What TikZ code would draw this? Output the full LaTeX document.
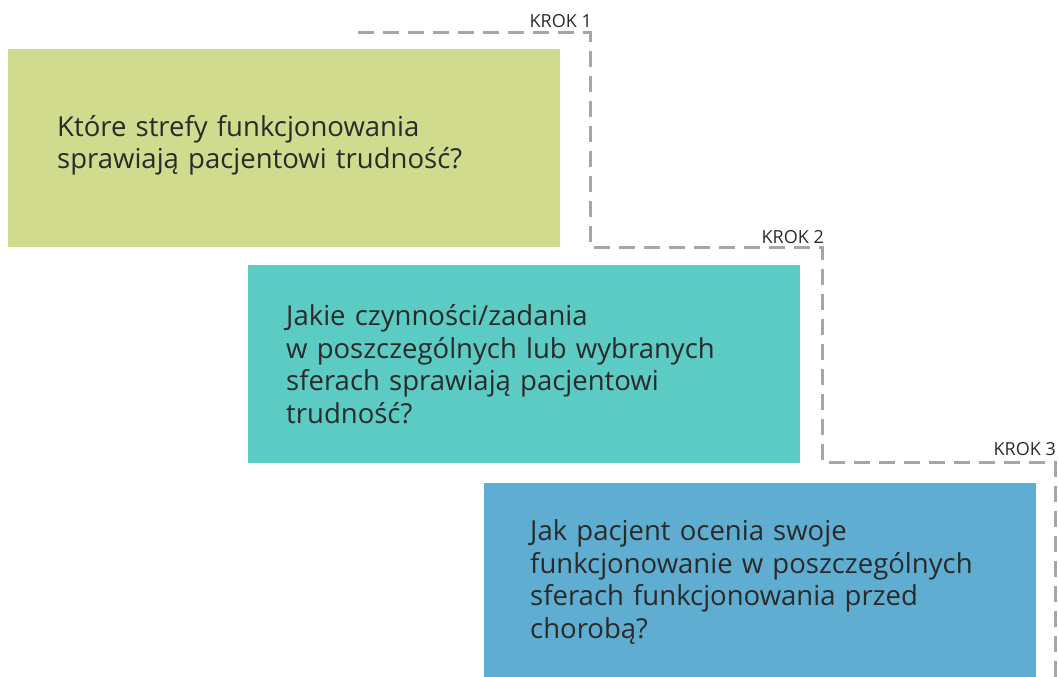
\documentclass[tikz,border=0pt]{standalone}
\usepackage{fontspec}
\setmainfont{Open Sans}
\definecolor{boxA}{HTML}{D0DB8D}
\definecolor{boxB}{HTML}{5BCBC3}
\definecolor{boxC}{HTML}{5FADD0}
\definecolor{dashgray}{HTML}{A6A6A6}
\definecolor{txt}{HTML}{2A2A2A}
\tikzset{
  stepbox/.style={rectangle, draw=none, anchor=north west, minimum width=552pt, minimum height=198pt,
    inner ysep=0pt, align=left, text=txt,
    font=\fontsize{27.5}{32.5}\selectfont},
  pad/.style={inner xsep=#1, text width=552pt-2*#1},
  steplabel/.style={anchor=base east, inner sep=0pt, text=txt, font=\fontsize{18}{22}\selectfont},
  stepline/.style={draw=dashgray, line width=3pt, dash pattern=on 16pt off 9pt}
}
\begin{document}
\begin{tikzpicture}[x=1pt,y=-1pt]
\useasboundingbox (0,0) rectangle (1058,677);
\clip (0,0) rectangle (1058,677);
\node[stepbox, pad=49pt, fill=boxA] (b1) at (8,49) {Które strefy funkcjonowania\\sprawiają pacjentowi trudność?\rule[-12pt]{0pt}{1pt}};
\node[stepbox, pad=38pt, fill=boxB] (b2) at (248,265) {Jakie czynności/zadania\\w poszczególnych lub wybranych\\sferach sprawiają pacjentowi\\trudność?};
\node[stepbox, pad=46pt, fill=boxC] (b3) at (484,483) {Jak pacjent ocenia swoje\\funkcjonowanie w poszczególnych\\sferach funkcjonowania przed\\chorobą?};
\coordinate (p0) at (358,33);
\coordinate (p1) at (590,33);
\coordinate (p2) at (590,247);
\coordinate (p3) at (822,247);
\coordinate (p4) at (822,462);
\coordinate (p5) at (1055,462);
\coordinate (p6) at (1055,690);
\draw[stepline] (p0) -- (p1) -- (p2) -- (p3) -- (p4) -- (p5) -- (p6);
\node[steplabel] (k1) at (592,28) {KROK 1};
\node[steplabel] (k2) at (824,243) {KROK 2};
\node[steplabel] (k3) at (1056,455) {KROK 3};
\end{tikzpicture}
\end{document}
